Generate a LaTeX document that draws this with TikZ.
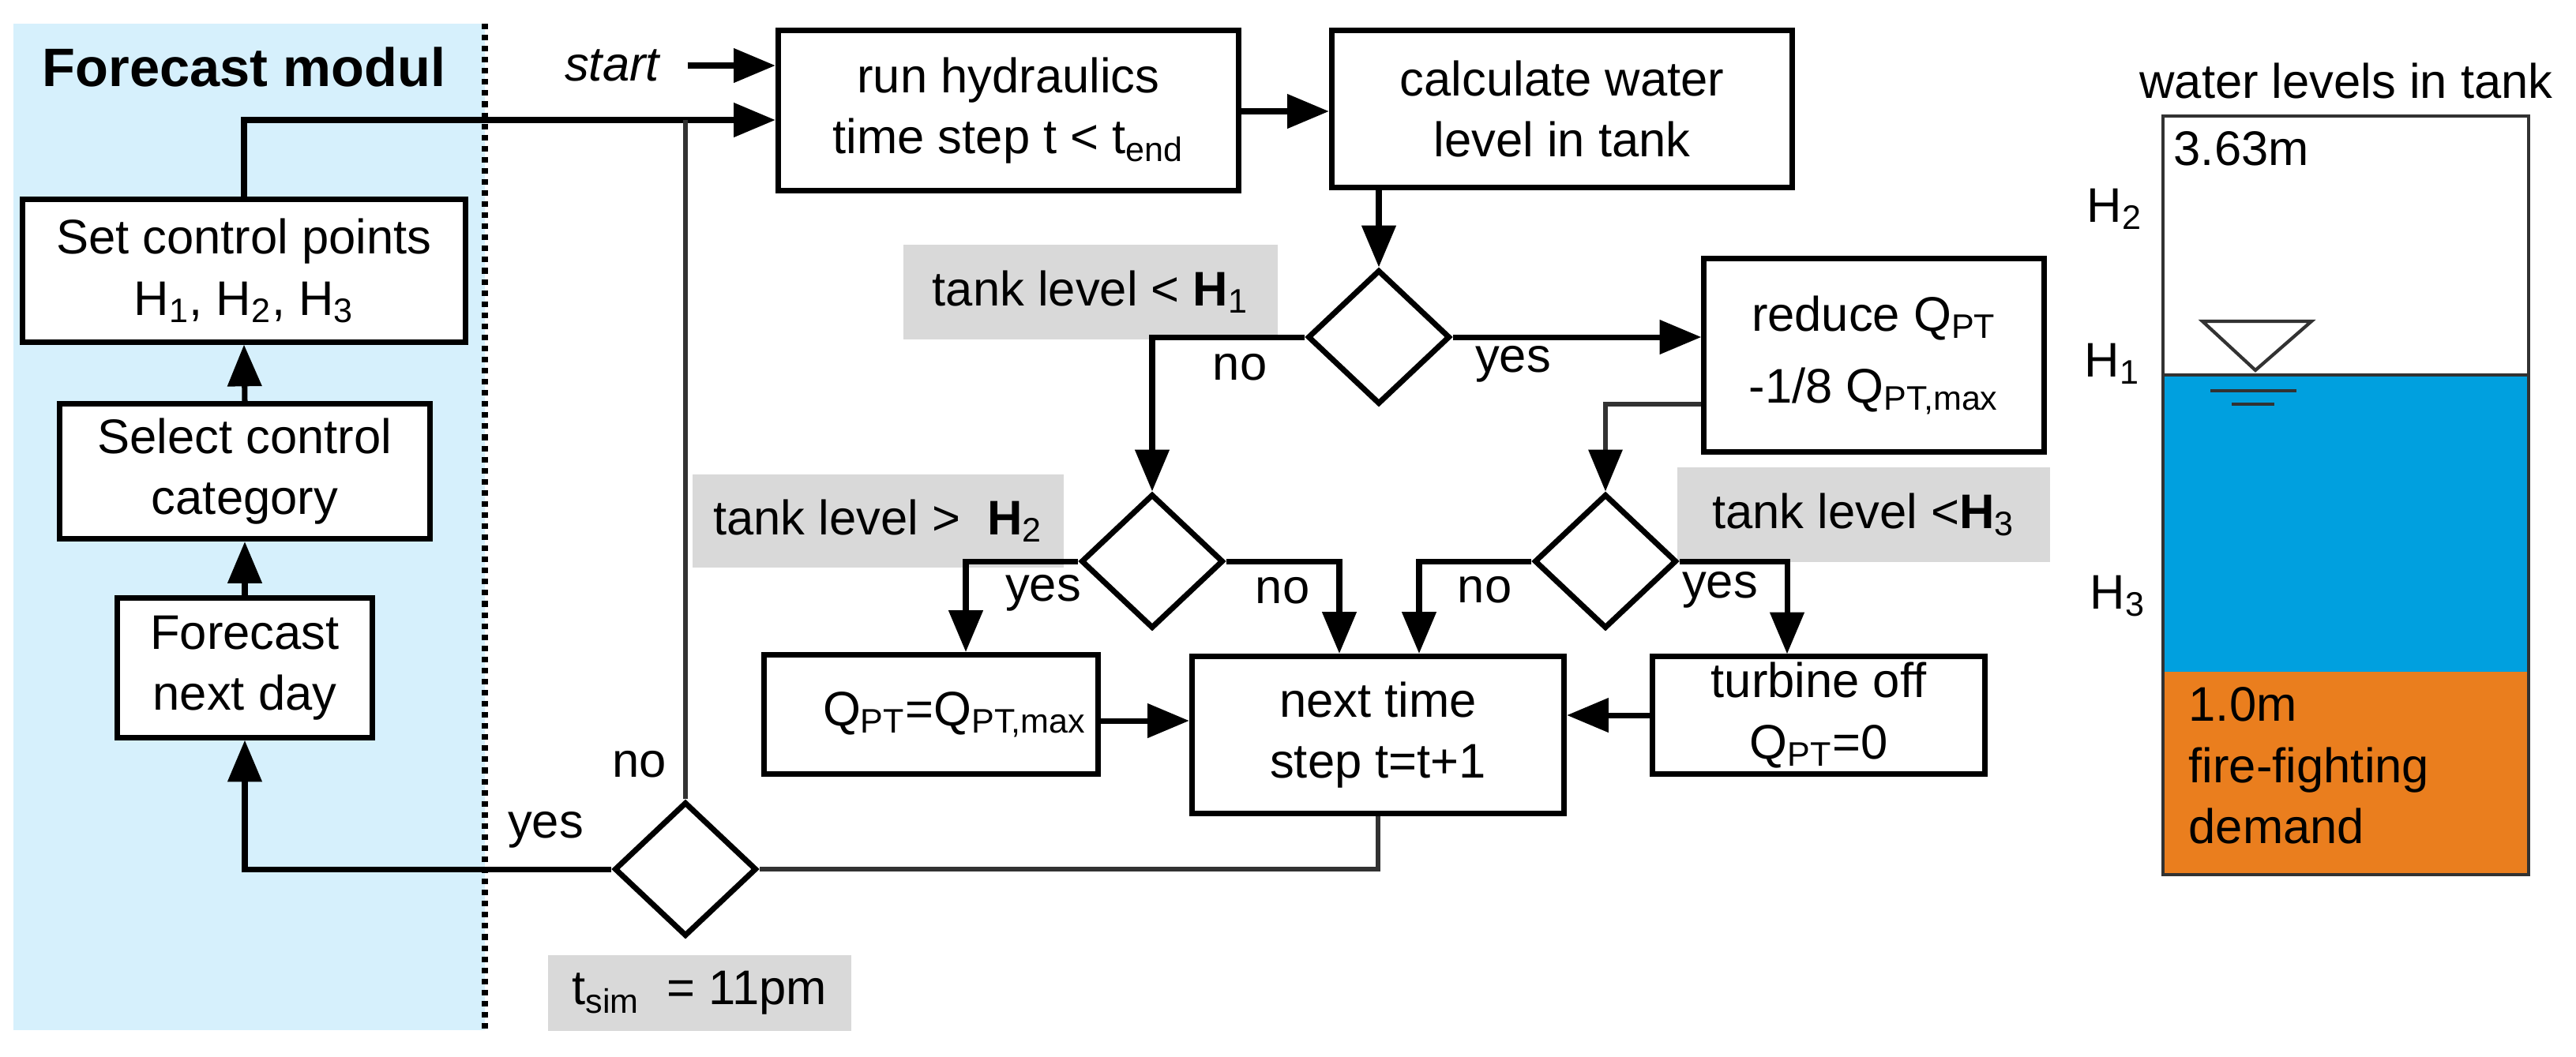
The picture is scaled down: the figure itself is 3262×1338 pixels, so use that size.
\documentclass[tikz,border=0pt]{standalone}
\usepackage{fontspec}
\setmainfont{Liberation Sans}
\usetikzlibrary{arrows.meta,shapes.geometric,calc}
\definecolor{panel}{RGB}{214,240,252}
\definecolor{lab}{RGB}{217,217,217}
\definecolor{water}{RGB}{0,160,223}
\definecolor{fire}{RGB}{234,126,30}
\definecolor{dk}{RGB}{50,50,50}
\begin{document}
\begin{tikzpicture}[x=0.01cm,y=-0.01cm,
  every node/.style={font=\fontsize{17.5}{22}\selectfont, align=center, inner sep=0pt},
  box/.style={draw, fill=white, line width=2pt, rectangle},
  dia/.style={draw, fill=white, line width=2pt, diamond, minimum width=1.8cm, minimum height=1.7cm},
  lab/.style={fill=lab, rectangle},
  arr/.style={line width=2pt, -{Triangle[length=15pt,width=12pt]}},
  thin/.style={line width=1.6pt, dk},
  tarr/.style={line width=1.6pt, dk, -{Triangle[length=15pt,width=12pt,color=black]}}]
\useasboundingbox (0,0) rectangle (3262,1338);
% panel
\fill[panel] (17,30) rectangle (614,1305);
\draw[line width=2pt, dotted] (614,30) -- (614,1305);
\node[font=\fontsize{19.5}{22}\selectfont\bfseries] (title) at (309,85) {Forecast modul};
% boxes
\node[box, minimum width=5.6cm, minimum height=1.8cm] (set) at (309,343) {Set control points\\H\textsubscript{1}, H\textsubscript{2}, H\textsubscript{3}};
\node[box, minimum width=4.68cm, minimum height=1.71cm] (sel) at (310,597) {Select control\\category};
\node[box, minimum width=3.22cm, minimum height=1.76cm] (fc) at (310,846) {Forecast\\next day};
\node[box, minimum width=5.83cm, minimum height=2.03cm] (run) at (1277,140) {run hydraulics\\time step t < t\textsubscript{end}};
\node[box, minimum width=5.83cm, minimum height=1.99cm] (calc) at (1978,138) {calculate water\\level in tank};
\node[box, minimum width=4.3cm, minimum height=2.45cm] (red) at (2373,450) {reduce Q\textsubscript{PT}\\[4pt]-1/8 Q\textsubscript{PT,max}};
\node[box, minimum width=4.22cm, minimum height=1.51cm] (q) at (1179,905) {\hspace*{0.6cm}Q\textsubscript{PT}=Q\textsubscript{PT,max}};
\node[box, minimum width=4.71cm, minimum height=1.99cm] (next) at (1745,931) {next time\\step t=t+1};
\node[box, minimum width=4.21cm, minimum height=1.48cm] (turb) at (2303,906) {turbine off\\Q\textsubscript{PT}=0};
% gray labels
\node[lab, minimum width=4.73cm, minimum height=1.19cm] (l1) at (1381,370) {tank level < \textbf{H}\textsubscript{1}};
\node[lab, minimum width=4.69cm, minimum height=1.18cm] (l2) at (1112,660) {tank level > \ \textbf{H}\textsubscript{2}};
\node[lab, minimum width=4.71cm, minimum height=1.19cm] (l3) at (2360,652) {tank level <\textbf{H}\textsubscript{3}};
\node[lab, minimum width=3.83cm, minimum height=0.95cm] (l4) at (886,1258) {t\textsubscript{sim} \ = 11pm};
% diamonds
\node[dia] (d1) at (1746,427) {};
\node[dia] (d2) at (1459,711) {};
\node[dia] (d3) at (2033,711) {};
\node[dia] (d4) at (868,1101) {};
% start
\node[font=\fontsize{17.5}{22}\selectfont\itshape] (start) at (775,83) {start};
\draw[arr] ($(start.east)+(35,0)$) -- (run.west |- start);
% connectors
\coordinate (fb) at ($(run.west)+(0,12)$);
\draw[arr] (set.north) |- (fb);
\draw[thin] (d4.north) -- (d4.north |- fb);
\draw[arr] (d4.west) -| (fc.south);
\draw[arr] (fc.north) -- (sel.south);
\draw[arr] (sel.north) -- (set.south);
\draw[thin] (next.south) |- (d4.east);
\draw[arr] (run.east |- 0,141) -- (calc.west |- 0,141);
\draw[arr] (d1.north |- calc.south) -- (d1.north);
\draw[arr] (d1.west) -| (d2.north);
\draw[arr] (d1.east) -- (red.west |- d1.east);
\draw[tarr] ($(red.west)+(0,62)$) -| (d3.north);
\draw[arr] (d2.west) -| ($(q.north)+(44,0)$);
\draw[arr] (d2.east) -| ($(next.north)+(-49,0)$);
\draw[arr] (d3.west) -| ($(next.north)+(52,0)$);
\draw[arr] (d3.east) -| ($(turb.north)+(-40,0)$);
\draw[arr] (q.east |- 0,913) -- (next.west |- 0,913);
\draw[arr] (turb.west) -- (next.east |- turb.west);
% branch labels
\node (n1) at (1570,465) {no};
\node (y1) at (1916,461) {yes};
\node (y2) at (1321,751) {yes};
\node (n2) at (1624,748) {no};
\node (n3) at (1880,747) {no};
\node (y3) at (2178,747) {yes};
\node (n4) at (810,968) {no};
\node (y4) at (691,1051) {yes};
% tank
\node (wt) at (2971,102) {water levels in tank};
\fill[fire] (2739,851) rectangle (3202,1108);
\fill[water] (2739,475) rectangle (3202,851);
\draw[dk, line width=1pt] (2739,475) -- (3202,475);
\draw[dk, line width=1.2pt] (2739,147) rectangle (3202,1108);
\draw[dk, line width=1.2pt] (2789,407) -- (2927,407) -- (2856,469) -- cycle;
\draw[dk, line width=1.2pt] (2799,495) -- (2908,495);
\draw[dk, line width=1.2pt] (2826,512) -- (2880,512);
\node[anchor=west] (m1) at (2752,188) {3.63m};
\node (h2) at (2678,265) {H\textsubscript{2}};
\node (h1) at (2675,461) {H\textsubscript{1}};
\node (h3) at (2682,755) {H\textsubscript{3}};
\node[anchor=north west, align=left] (fd) at (2771,870) {1.0m\\fire-fighting\\demand};
\end{tikzpicture}
\end{document}
